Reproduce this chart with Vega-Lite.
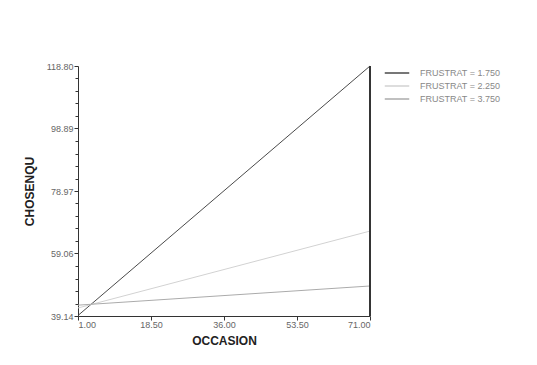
{
  "$schema": "https://vega.github.io/schema/vega-lite/v6.json",
  "width": 292,
  "height": 250,
  "padding": {"left": 23, "top": 62, "right": 5, "bottom": 5},
  "background": "white",
  "config": {
    "view": {"stroke": null},
    "font": "Liberation Sans"
  },
  "data": {
    "values": [
      {"OCCASION": 1, "CHOSENQU": 39.3, "FRUSTRAT": "FRUSTRAT = 1.750"},
      {"OCCASION": 71, "CHOSENQU": 118.8, "FRUSTRAT": "FRUSTRAT = 1.750"},
      {"OCCASION": 1, "CHOSENQU": 41.7, "FRUSTRAT": "FRUSTRAT = 2.250"},
      {"OCCASION": 71, "CHOSENQU": 66.2, "FRUSTRAT": "FRUSTRAT = 2.250"},
      {"OCCASION": 1, "CHOSENQU": 42.6, "FRUSTRAT": "FRUSTRAT = 3.750"},
      {"OCCASION": 71, "CHOSENQU": 48.7, "FRUSTRAT": "FRUSTRAT = 3.750"}
    ]
  },
  "layer": [
    {
      "mark": {"type": "line", "strokeWidth": 1},
      "encoding": {
        "x": {
          "field": "OCCASION", "type": "quantitative",
          "scale": {"domain": [1, 71], "nice": false, "zero": false},
          "axis": {
            "title": "OCCASION",
            "titleFont": "Liberation Sans", "titleFontSize": 12, "titleFontWeight": "bold", "titleColor": "#222",
            "titlePadding": 6,
            "values": [1, 5.375, 9.75, 14.125, 18.5, 22.875, 27.25, 31.625, 36, 40.375, 44.75, 49.125, 53.5, 57.875, 62.25, 66.625, 71],
            "labelExpr": "indexof([1,18.5,36,53.5,71], datum.value) >= 0 ? format(datum.value, '.2f') : ''",
            "labelFontSize": 9, "labelColor": "#666", "labelPadding": 0,
            "grid": false, "domainColor": "#333", "tickColor": "#333",
            "tickSize": {"condition": {"test": "indexof([1,18.5,36,53.5,71], datum.value) >= 0", "value": 4}, "value": 3}
          }
        },
        "y": {
          "field": "CHOSENQU", "type": "quantitative",
          "scale": {"domain": [39.14, 118.8], "nice": false, "zero": false},
          "axis": {
            "title": "CHOSENQU",
            "titleFont": "Liberation Sans", "titleFontSize": 12, "titleFontWeight": "bold", "titleColor": "#222",
            "titlePadding": 10,
            "values": [39.14, 43.122, 47.104, 51.086, 55.068, 59.06, 63.042, 67.024, 71.006, 74.988, 78.97, 82.952, 86.934, 90.916, 94.898, 98.89, 102.872, 106.854, 110.836, 114.818, 118.8],
            "labelExpr": "indexof([39.14,59.06,78.97,98.89,118.8], datum.value) >= 0 ? format(datum.value, '.2f') : ''",
            "labelFontSize": 9, "labelColor": "#666", "labelPadding": 1,
            "grid": false, "domainColor": "#333", "tickColor": "#333",
            "tickSize": {"condition": {"test": "indexof([39.14,59.06,78.97,98.89,118.8], datum.value) >= 0", "value": 4}, "value": 3}
          }
        },
        "color": {
          "field": "FRUSTRAT", "type": "nominal",
          "scale": {"range": ["#4a4a4a", "#d2d2d2", "#ababab"]},
          "legend": {
            "title": null, "orient": "right", "offset": 18,
            "labelFontSize": 9, "labelColor": "#888",
            "symbolType": "M-2,0H2", "symbolSize": 150, "symbolStrokeWidth": 1.5,
            "rowPadding": 1, "labelOffset": 16, "padding": 0
          }
        }
      }
    },
    {
      "mark": {"type": "rule", "color": "#333", "strokeWidth": 1},
      "encoding": {"x": {"datum": 71}}
    }
  ]
}
